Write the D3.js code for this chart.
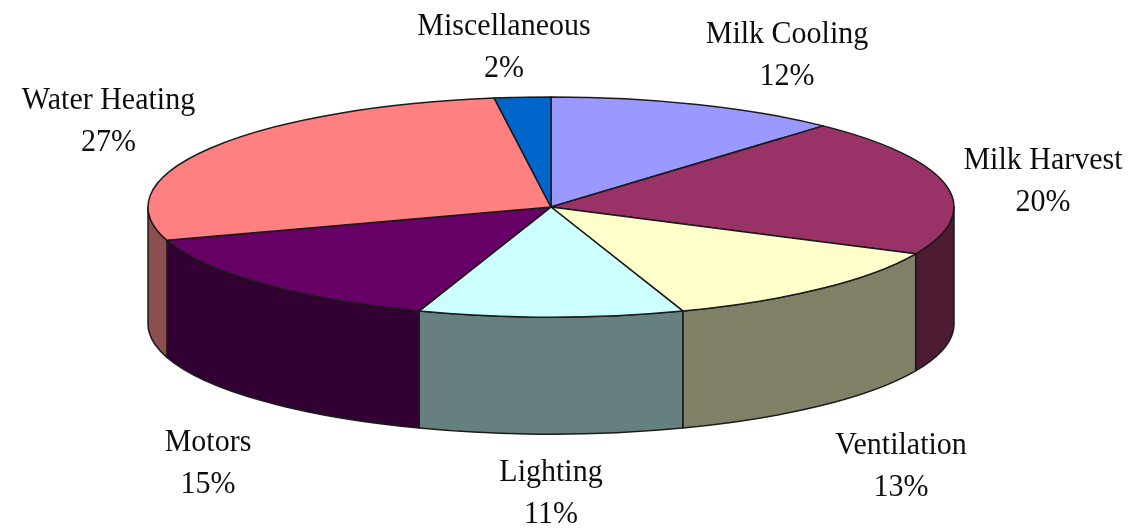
<!DOCTYPE html>
<html>
<head>
<meta charset="utf-8">
<script src="https://cdn.jsdelivr.net/npm/d3@7"></script>
<style>
  html, body { margin: 0; padding: 0; background: #fff; }
  svg { display: block; }
  text { font-family: "Liberation Serif", serif; font-size: 30px; fill: #111; text-anchor: middle; }
  path { stroke: #1a1a1a; stroke-width: 1.5; stroke-linejoin: round; vector-effect: non-scaling-stroke; }
</style>
</head>
<body>
<svg id="pie" width="1139" height="531">
  <defs>
    <!-- the source is a soft, slightly blurred scan -->
    <filter id="soft" x="0" y="0" width="100%" height="100%" filterUnits="userSpaceOnUse">
      <feGaussianBlur stdDeviation="0.5"/>
    </filter>
  </defs>
</svg>
<script>
// Clockwise from 12 o'clock
const categories = ["Milk Cooling", "Milk Harvest", "Ventilation", "Lighting", "Motors", "Water Heating", "Miscellaneous"];
const percentLabels = ["12%", "20%", "13%", "11%", "15%", "27%", "2%"];
// Slice shares as measured on the picture (labels above are the printed, rounded ones)
const shares = [11.8, 20.2, 12.7, 10.6, 14.8, 27.65, 2.25];
const topColors = ["#9999ff", "#993366", "#ffffcc", "#ccffff", "#660066", "#ff8080", "#0066cc"];
const sideColors = ["#4d4d80", "#4d1a33", "#808066", "#668080", "#330033", "#8c5050", "#003366"];

// Label centres and first-line baselines, in page pixels
const labelX = [787, 1043, 901, 551, 208, 108.5, 504];
const labelY = [43, 169, 454, 481, 451, 109, 35];
// text in the picture is stretched a little vertically
const textStretch = 1.08;
const lineGap = 42.5 / textStretch;

const svg = d3.select("#pie");
const root = svg.append("g").attr("filter", "url(#soft)");
const cx = 551, cy = 207, rx = 403, ry = 110, depth = 117;

const pie = d3.pie().sort(null).value(d => d.share);
const slices = pie(categories.map((name, i) => ({ name, share: shares[i], i })));

const rimX = a => cx + rx * Math.sin(a);
const rimY = a => cy - ry * Math.cos(a);

// Only the part of the rim between 3 and 9 o'clock shows a wall
function wallPath(s) {
  const a0 = Math.max(s.startAngle, Math.PI / 2);
  const a1 = Math.min(s.endAngle, Math.PI * 1.5);
  if (a1 <= a0) return null;
  return `M${rimX(a0)},${rimY(a0)}` +
    `A${rx},${ry} 0 0 1 ${rimX(a1)},${rimY(a1)}` +
    `L${rimX(a1)},${rimY(a1) + depth}` +
    `A${rx},${ry} 0 0 0 ${rimX(a0)},${rimY(a0) + depth}Z`;
}

root.append("g")
  .selectAll("path")
  .data(slices.filter(s => wallPath(s)))
  .enter()
  .append("path")
  .attr("d", wallPath)
  .attr("fill", d => sideColors[d.data.i]);

const arc = d3.arc().innerRadius(0).outerRadius(rx);

root.append("g")
  .attr("transform", `translate(${cx},${cy}) scale(1,${ry / rx})`)
  .selectAll("path")
  .data(slices)
  .enter()
  .append("path")
  .attr("d", arc)
  .attr("fill", d => topColors[d.data.i]);

// Labels
const labels = root.append("g")
  .selectAll("text")
  .data(categories)
  .enter()
  .append("text")
  .attr("transform", (d, i) => `translate(${labelX[i]},${labelY[i]}) scale(1,${textStretch})`);

labels.append("tspan").text(d => d);
labels.append("tspan")
  .attr("x", 0)
  .attr("dy", lineGap)
  .text((d, i) => percentLabels[i]);
</script>
</body>
</html>
